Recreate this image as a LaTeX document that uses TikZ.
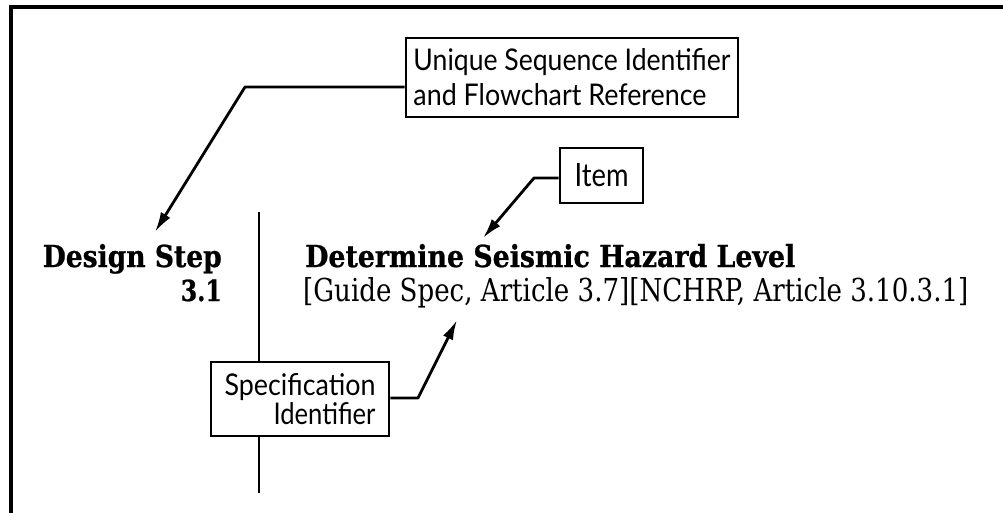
\documentclass[tikz,border=0pt]{standalone}
\usepackage{fontspec}
\setmainfont{DejaVu Serif}[BoldFeatures={FakeBold=0.8}]
\newfontfamily\hand{Lato}
\usetikzlibrary{arrows.meta}
\newcommand{\rz}[3]{\resizebox{#1pt}{#2pt}{#3}}
\begin{document}
\begin{tikzpicture}[x=1pt,y=-1pt,
  frame/.style={line width=3.5pt, line cap=rect, line join=miter},
  labelbox/.style={draw, line width=2.8pt, inner sep=0pt},
  pointer/.style={line width=2.8pt, -{Latex[length=20pt,width=11pt]}, line join=round},
  vrule/.style={line width=2pt},
  title/.style={inner sep=0pt, anchor=base west},
  steplabel/.style={inner sep=0pt, anchor=base east},
]
\useasboundingbox (0,0) rectangle (1003,513);
% frame (top and left edges visible)
\coordinate (f1) at (1003,7);
\coordinate (f2) at (11,7);
\coordinate (f3) at (11,513);
\draw[frame] (f1) -- (f2) -- (f3);

% label boxes
\node[labelbox, minimum width=332pt, minimum height=79pt, align=left,
      font=\hand\fontsize{20}{35}\selectfont] (uniq) at (572,77.5)
  {\rz{317}{22}{Unique Sequence Identifier}\\\rz{293}{22}{and Flowchart Reference}};
\node[labelbox, minimum width=83pt, minimum height=55pt, font=\hand] (item) at (601.5,175.5)
  {\rz{54}{23}{Item}};
\node[labelbox, minimum width=178pt, minimum height=74pt, align=right,
      font=\hand\fontsize{18}{29}\selectfont] (spec) at (300,399)
  {\rz{151}{22}{Specification}\\\rz{102}{22}{Identifier}};

% main text
\node[steplabel] (ds) at (222,267) {\rz{179}{23}{\bfseries Design Step}};
\node[steplabel] (dsn) at (222,301) {\rz{41}{21.5}{\bfseries 3.1}};
\node[title] (det) at (305,267) {\rz{490}{23}{\bfseries Determine Seismic Hazard Level}};
\node[title] (ref) at (303,301) {\rz{665}{24}{[Guide Spec, Article 3.7][NCHRP, Article 3.10.3.1]}};

% vertical rule
\coordinate (v1) at (259,212);
\coordinate (v2) at (259,493);
\draw[vrule] (v1) -- (v1 |- spec.north);
\draw[vrule] (v2 |- spec.south) -- (v2);

% pointers
\coordinate (k1) at (245,87);
\coordinate (t1) at (155,232);
\draw[pointer] (uniq.west |- k1) -- (k1) -- (t1);
\coordinate (k2) at (534,178);
\coordinate (t2) at (483,238);
\draw[pointer] (item.west |- k2) -- (k2) -- (t2);
\coordinate (k3) at (418,398);
\coordinate (t3) at (457,320);
\draw[pointer] (spec.east |- k3) -- (k3) -- (t3);
\end{tikzpicture}
\end{document}
